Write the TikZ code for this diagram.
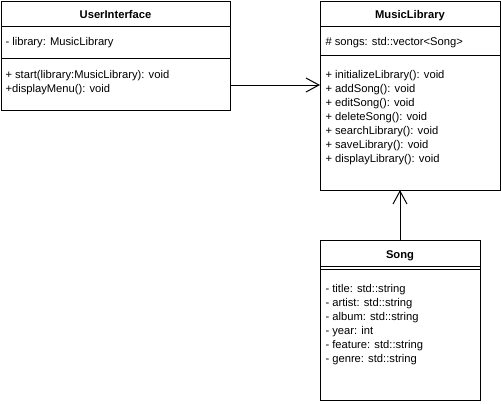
\documentclass[tikz,border=0pt]{standalone}
\usepackage{fontspec}
\setmainfont{Liberation Sans}
\usetikzlibrary{arrows.meta}

\tikzset{every picture/.style={line width=0.75pt}}
\tikzset{
  classbox/.style={draw, rectangle, anchor=north west, inner sep=0pt, outer sep=0pt},
  classname/.style={inner sep=0pt, text height=6pt, text depth=0pt, font=\fontsize{8.4}{10}\selectfont\bfseries},
  member/.style={anchor=west, inner sep=0pt, text height=6pt, text depth=0pt, font=\fontsize{8.4}{10}\selectfont},
  assoc/.style={-{Straight Barb[length=9.75pt,width=10.5pt]}},
}

\begin{document}
\begin{tikzpicture}[x=0.75pt,y=0.75pt,yscale=-1,xscale=1]
\useasboundingbox (0,0) rectangle (501,404);

%Shape: Class [id:ui] 
\node [classbox, minimum width=171.75pt, minimum height=81.75pt] (ui) at (1,1) {};
\draw (ui.west |- 0,26) -- (ui.east |- 0,26) ;
\draw (ui.west |- 0,58) -- (ui.east |- 0,58) ;

%Shape: Class [id:ml] 
\node [classbox, minimum width=135pt, minimum height=141.75pt] (ml) at (320,1) {};
\draw (ml.west |- 0,26) -- (ml.east |- 0,26) ;
\draw (ml.west |- 0,55) -- (ml.east |- 0,55) ;

%Shape: Class [id:song] 
\node [classbox, minimum width=120pt, minimum height=120pt] (song) at (320,240) {};
\draw (song.west |- 0,266) -- (song.east |- 0,266) ;
\draw (song.west |- 0,269) -- (song.east |- 0,269) ;

% Text Node
\node [classname] (uiname) at (115.5,14) {UserInterface};
% Text Node
\node [member] (uilib) at (5,41.5) {- library: MusicLibrary};
% Text Node
\node [member] (uistart) at (5,74) {+ start(library:MusicLibrary): void};
% Text Node
\node [member] (uimenu) at (5,88) {+displayMenu(): void};

% Text Node
\node [classname] (mlname) at (410,14) {MusicLibrary};
% Text Node
\node [member] (mlsongs) at (325,41.5) {\# songs: std::vector<Song>};
% Text Node
\node [member] (mlinit) at (325,74) {+ initializeLibrary(): void};
% Text Node
\node [member] (mladd) at (325,88) {+ addSong(): void};
% Text Node
\node [member] (mledit) at (325,102) {+ editSong(): void};
% Text Node
\node [member] (mldelete) at (325,116) {+ deleteSong(): void};
% Text Node
\node [member] (mlsearch) at (325,130) {+ searchLibrary(): void};
% Text Node
\node [member] (mlsave) at (325,144) {+ saveLibrary(): void};
% Text Node
\node [member] (mldisplay) at (325,158) {+ displayLibrary(): void};

% Text Node
\node [classname] (songname) at (400,254) {Song};
% Text Node
\node [member] (songtitle) at (325,288) {- title: std::string};
% Text Node
\node [member] (songartist) at (325,302) {- artist: std::string};
% Text Node
\node [member] (songalbum) at (325,316) {- album: std::string};
% Text Node
\node [member] (songyear) at (325,330) {- year: int};
% Text Node
\node [member] (songfeature) at (325,344) {- feature: std::string};
% Text Node
\node [member] (songgenre) at (325,358) {- genre: std::string};

%Straight Lines [id:uitoml] 
\coordinate (uiout) at (230,85);
\draw [assoc] (uiout) -- (uiout -| ml.west) ;

%Straight Lines [id:songtoml] 
\draw [assoc] (song.north) -- (song.north |- ml.south) ;

\end{tikzpicture}
\end{document}
